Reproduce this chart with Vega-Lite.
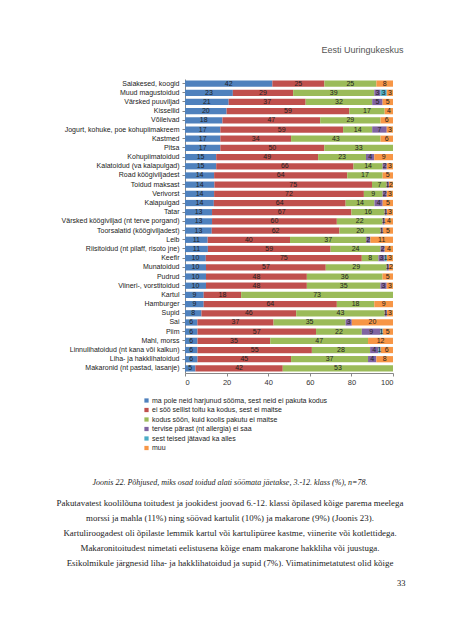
{
  "$schema": "https://vega.github.io/schema/vega-lite/v6.json",
  "width": 208,
  "height": 294,
  "autosize": {"type": "none"},
  "padding": {"left": 185, "top": 79, "right": 60, "bottom": 267},
  "background": "white",
  "config": {"view": {"stroke": null}, "font": "Liberation Sans"},
  "title": {
    "text": "Joonis 22. Põhjused, miks osad toidud alati söömata jäetakse, 3.-12. klass (%), n=78.",
    "subtitle": [
      "Pakutavatest koolilõuna toitudest ja jookidest joovad 6.-12. klassi õpilased kõige parema meelega",
      "morssi ja mahla (11%) ning söövad kartulit (10%) ja makarone (9%) (Joonis 23).",
      "Kartuliroogadest oli õpilaste lemmik kartul või kartulipüree kastme, viinerite või kotlettidega.",
      "Makaronitoitudest nimetati eelistusena kõige enam makarone hakkliha või juustuga.",
      "Esikolmikule järgnesid liha- ja hakklihatoidud ja supid (7%). Viimatinimetatutest olid kõige"
    ],
    "orient": "bottom",
    "anchor": "middle",
    "frame": "group",
    "dx": -59,
    "offset": -108,
    "font": "Liberation Serif",
    "fontStyle": "italic",
    "fontSize": 8,
    "fontWeight": "normal",
    "color": "#222",
    "subtitleFont": "Liberation Serif",
    "subtitleFontSize": 8.9,
    "subtitleColor": "#222",
    "subtitleLineHeight": 15,
    "subtitlePadding": 12
  },
  "data": {
    "values": [
      {"f": "Saiakesed, koogid", "r": 1, "v": 42}, {"f": "Saiakesed, koogid", "r": 2, "v": 25}, {"f": "Saiakesed, koogid", "r": 3, "v": 25}, {"f": "Saiakesed, koogid", "r": 6, "v": 8},
      {"f": "Muud magustoidud", "r": 1, "v": 23}, {"f": "Muud magustoidud", "r": 2, "v": 29}, {"f": "Muud magustoidud", "r": 3, "v": 39}, {"f": "Muud magustoidud", "r": 4, "v": 3}, {"f": "Muud magustoidud", "r": 5, "v": 3}, {"f": "Muud magustoidud", "r": 6, "v": 3},
      {"f": "Värsked puuviljad", "r": 1, "v": 21}, {"f": "Värsked puuviljad", "r": 2, "v": 37}, {"f": "Värsked puuviljad", "r": 3, "v": 32}, {"f": "Värsked puuviljad", "r": 4, "v": 5}, {"f": "Värsked puuviljad", "r": 6, "v": 5},
      {"f": "Kissellid", "r": 1, "v": 20}, {"f": "Kissellid", "r": 2, "v": 59}, {"f": "Kissellid", "r": 3, "v": 17}, {"f": "Kissellid", "r": 6, "v": 4},
      {"f": "Võileivad", "r": 1, "v": 18}, {"f": "Võileivad", "r": 2, "v": 47}, {"f": "Võileivad", "r": 3, "v": 29}, {"f": "Võileivad", "r": 6, "v": 6},
      {"f": "Jogurt, kohuke, poe kohupiimakreem", "r": 1, "v": 17}, {"f": "Jogurt, kohuke, poe kohupiimakreem", "r": 2, "v": 59}, {"f": "Jogurt, kohuke, poe kohupiimakreem", "r": 3, "v": 14}, {"f": "Jogurt, kohuke, poe kohupiimakreem", "r": 4, "v": 7}, {"f": "Jogurt, kohuke, poe kohupiimakreem", "r": 6, "v": 3},
      {"f": "Kastmed", "r": 1, "v": 17}, {"f": "Kastmed", "r": 2, "v": 34}, {"f": "Kastmed", "r": 3, "v": 43}, {"f": "Kastmed", "r": 6, "v": 6},
      {"f": "Pitsa", "r": 1, "v": 17}, {"f": "Pitsa", "r": 2, "v": 50}, {"f": "Pitsa", "r": 3, "v": 33},
      {"f": "Kohupiimatoidud", "r": 1, "v": 15}, {"f": "Kohupiimatoidud", "r": 2, "v": 49}, {"f": "Kohupiimatoidud", "r": 3, "v": 23}, {"f": "Kohupiimatoidud", "r": 4, "v": 4}, {"f": "Kohupiimatoidud", "r": 6, "v": 9},
      {"f": "Kalatoidud (va kalapulgad)", "r": 1, "v": 15}, {"f": "Kalatoidud (va kalapulgad)", "r": 2, "v": 66}, {"f": "Kalatoidud (va kalapulgad)", "r": 3, "v": 14}, {"f": "Kalatoidud (va kalapulgad)", "r": 4, "v": 2}, {"f": "Kalatoidud (va kalapulgad)", "r": 6, "v": 3},
      {"f": "Road köögiviljadest", "r": 1, "v": 14}, {"f": "Road köögiviljadest", "r": 2, "v": 64}, {"f": "Road köögiviljadest", "r": 3, "v": 17}, {"f": "Road köögiviljadest", "r": 6, "v": 5},
      {"f": "Toidud maksast", "r": 1, "v": 14}, {"f": "Toidud maksast", "r": 2, "v": 75}, {"f": "Toidud maksast", "r": 3, "v": 7}, {"f": "Toidud maksast", "r": 4, "v": 1}, {"f": "Toidud maksast", "r": 6, "v": 2},
      {"f": "Verivorst", "r": 1, "v": 14}, {"f": "Verivorst", "r": 2, "v": 72}, {"f": "Verivorst", "r": 3, "v": 9}, {"f": "Verivorst", "r": 4, "v": 2}, {"f": "Verivorst", "r": 6, "v": 3},
      {"f": "Kalapulgad", "r": 1, "v": 14}, {"f": "Kalapulgad", "r": 2, "v": 64}, {"f": "Kalapulgad", "r": 3, "v": 14}, {"f": "Kalapulgad", "r": 4, "v": 4}, {"f": "Kalapulgad", "r": 6, "v": 5},
      {"f": "Tatar", "r": 1, "v": 13}, {"f": "Tatar", "r": 2, "v": 67}, {"f": "Tatar", "r": 3, "v": 16}, {"f": "Tatar", "r": 4, "v": 1}, {"f": "Tatar", "r": 6, "v": 3},
      {"f": "Värsked köögiviljad (nt terve porgand)", "r": 1, "v": 13}, {"f": "Värsked köögiviljad (nt terve porgand)", "r": 2, "v": 60}, {"f": "Värsked köögiviljad (nt terve porgand)", "r": 3, "v": 22}, {"f": "Värsked köögiviljad (nt terve porgand)", "r": 4, "v": 1}, {"f": "Värsked köögiviljad (nt terve porgand)", "r": 6, "v": 4},
      {"f": "Toorsalatid (köögiviljadest)", "r": 1, "v": 13}, {"f": "Toorsalatid (köögiviljadest)", "r": 2, "v": 62}, {"f": "Toorsalatid (köögiviljadest)", "r": 3, "v": 20}, {"f": "Toorsalatid (köögiviljadest)", "r": 4, "v": 1}, {"f": "Toorsalatid (köögiviljadest)", "r": 6, "v": 5},
      {"f": "Leib", "r": 1, "v": 11}, {"f": "Leib", "r": 2, "v": 40}, {"f": "Leib", "r": 3, "v": 37}, {"f": "Leib", "r": 4, "v": 2}, {"f": "Leib", "r": 6, "v": 11},
      {"f": "Riisitoidud (nt pilaff, risoto jne)", "r": 1, "v": 11}, {"f": "Riisitoidud (nt pilaff, risoto jne)", "r": 2, "v": 59}, {"f": "Riisitoidud (nt pilaff, risoto jne)", "r": 3, "v": 24}, {"f": "Riisitoidud (nt pilaff, risoto jne)", "r": 4, "v": 2}, {"f": "Riisitoidud (nt pilaff, risoto jne)", "r": 6, "v": 4},
      {"f": "Keefir", "r": 1, "v": 10}, {"f": "Keefir", "r": 2, "v": 75}, {"f": "Keefir", "r": 3, "v": 8}, {"f": "Keefir", "r": 4, "v": 3}, {"f": "Keefir", "r": 5, "v": 1}, {"f": "Keefir", "r": 6, "v": 3},
      {"f": "Munatoidud", "r": 1, "v": 10}, {"f": "Munatoidud", "r": 2, "v": 57}, {"f": "Munatoidud", "r": 3, "v": 29}, {"f": "Munatoidud", "r": 4, "v": 1}, {"f": "Munatoidud", "r": 6, "v": 2},
      {"f": "Pudrud", "r": 1, "v": 10}, {"f": "Pudrud", "r": 2, "v": 48}, {"f": "Pudrud", "r": 3, "v": 36}, {"f": "Pudrud", "r": 6, "v": 5},
      {"f": "Viineri-, vorstitoidud", "r": 1, "v": 10}, {"f": "Viineri-, vorstitoidud", "r": 2, "v": 48}, {"f": "Viineri-, vorstitoidud", "r": 3, "v": 35}, {"f": "Viineri-, vorstitoidud", "r": 4, "v": 3}, {"f": "Viineri-, vorstitoidud", "r": 6, "v": 3},
      {"f": "Kartul", "r": 1, "v": 9}, {"f": "Kartul", "r": 2, "v": 18}, {"f": "Kartul", "r": 3, "v": 73},
      {"f": "Hamburger", "r": 1, "v": 9}, {"f": "Hamburger", "r": 2, "v": 64}, {"f": "Hamburger", "r": 3, "v": 18}, {"f": "Hamburger", "r": 6, "v": 9},
      {"f": "Supid", "r": 1, "v": 8}, {"f": "Supid", "r": 2, "v": 46}, {"f": "Supid", "r": 3, "v": 43}, {"f": "Supid", "r": 4, "v": 1}, {"f": "Supid", "r": 6, "v": 3},
      {"f": "Sai", "r": 1, "v": 6}, {"f": "Sai", "r": 2, "v": 37}, {"f": "Sai", "r": 3, "v": 35}, {"f": "Sai", "r": 4, "v": 3}, {"f": "Sai", "r": 6, "v": 20},
      {"f": "Piim", "r": 1, "v": 6}, {"f": "Piim", "r": 2, "v": 57}, {"f": "Piim", "r": 3, "v": 22}, {"f": "Piim", "r": 4, "v": 9}, {"f": "Piim", "r": 5, "v": 1}, {"f": "Piim", "r": 6, "v": 5},
      {"f": "Mahl, morss", "r": 1, "v": 6}, {"f": "Mahl, morss", "r": 2, "v": 35}, {"f": "Mahl, morss", "r": 3, "v": 47}, {"f": "Mahl, morss", "r": 6, "v": 12},
      {"f": "Linnulihatoidud (nt kana või kalkun)", "r": 1, "v": 6}, {"f": "Linnulihatoidud (nt kana või kalkun)", "r": 2, "v": 55}, {"f": "Linnulihatoidud (nt kana või kalkun)", "r": 3, "v": 28}, {"f": "Linnulihatoidud (nt kana või kalkun)", "r": 4, "v": 4}, {"f": "Linnulihatoidud (nt kana või kalkun)", "r": 5, "v": 1}, {"f": "Linnulihatoidud (nt kana või kalkun)", "r": 6, "v": 6},
      {"f": "Liha- ja hakklihatoidud", "r": 1, "v": 6}, {"f": "Liha- ja hakklihatoidud", "r": 2, "v": 45}, {"f": "Liha- ja hakklihatoidud", "r": 3, "v": 37}, {"f": "Liha- ja hakklihatoidud", "r": 4, "v": 4}, {"f": "Liha- ja hakklihatoidud", "r": 6, "v": 8},
      {"f": "Makaronid (nt pastad, lasanje)", "r": 1, "v": 5}, {"f": "Makaronid (nt pastad, lasanje)", "r": 2, "v": 42}, {"f": "Makaronid (nt pastad, lasanje)", "r": 3, "v": 53}
    ]
  },
  "layer": [
    {
      "mark": {"type": "bar"},
      "encoding": {
        "y": {
          "field": "f", "type": "nominal", "sort": null, "title": "Eesti Uuringukeskus",
          "scale": {"paddingInner": 0.32, "paddingOuter": 0.16},
          "axis": {
            "grid": false, "domainColor": "#888", "tickColor": "#888", "tickSize": 3,
            "labelFontSize": 7, "labelColor": "#222", "labelPadding": 3, "labelLimit": 200,
            "titleX": 218, "titleY": -30, "titleAngle": 0, "titleAlign": "right", "titleBaseline": "middle",
            "titleFontSize": 9, "titleFontWeight": "normal", "titleColor": "#555"
          }
        },
        "x": {
          "field": "v", "type": "quantitative", "stack": "normalize", "title": "33",
          "scale": {"domain": [0, 1]},
          "axis": {
            "values": [0, 0.2, 0.4, 0.6, 0.8, 1], "labelExpr": "format(datum.value*100,'d')",
            "grid": false, "domainColor": "#888", "tickColor": "#888", "tickSize": 3,
            "labelFontSize": 7.5, "labelColor": "#333", "labelPadding": 2,
            "titleX": 220, "titleY": 209, "titleAlign": "right", "titleBaseline": "middle",
            "titleFont": "Liberation Serif", "titleFontSize": 8.5, "titleFontWeight": "normal", "titleColor": "#222"
          }
        },
        "color": {
          "field": "r", "type": "nominal",
          "scale": {"domain": [1, 2, 3, 4, 5, 6], "range": ["#4F81BD", "#C0504D", "#9BBB59", "#8064A2", "#4BACC6", "#F79646"]},
          "legend": {
            "orient": "none", "legendX": -42, "legendY": 318, "title": null,
            "symbolType": "square", "symbolSize": 18, "symbolStrokeWidth": 0,
            "labelFontSize": 7, "labelColor": "#222", "rowPadding": 1.5, "labelOffset": 2,
            "labelLimit": 300,
            "labelExpr": "['ma pole neid harjunud sööma, sest neid ei pakuta kodus','ei söö sellist toitu ka kodus, sest ei maitse','kodus söön, kuid koolis pakutu ei maitse','tervise pärast (nt allergia) ei saa','sest teised jätavad ka alles','muu'][datum.value-1]"
          }
        },
        "order": {"field": "r", "type": "quantitative"}
      }
    },
    {
      "mark": {"type": "text", "fontSize": 7, "color": "#222"},
      "encoding": {
        "y": {"field": "f", "type": "nominal", "sort": null, "title": "Eesti Uuringukeskus"},
        "x": {"field": "v", "type": "quantitative", "stack": "normalize", "bandPosition": 0.5, "title": "33"},
        "detail": {"field": "r", "type": "nominal"},
        "order": {"field": "r", "type": "quantitative"},
        "text": {"field": "v", "type": "quantitative"}
      }
    }
  ]
}
